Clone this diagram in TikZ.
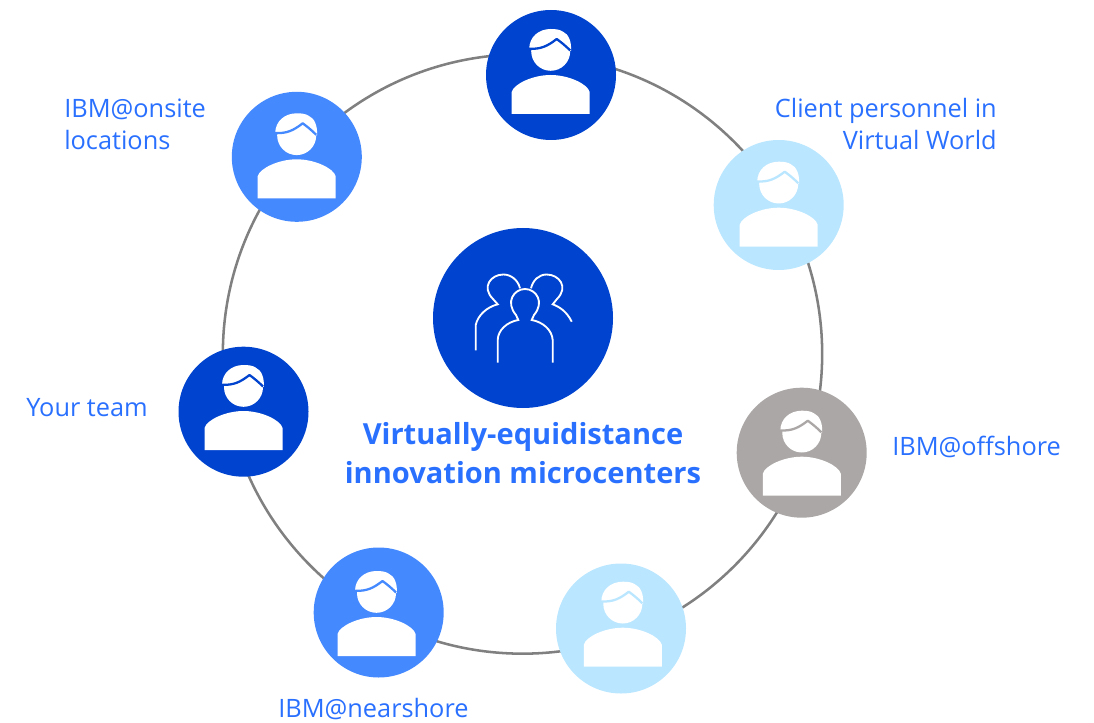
\documentclass[tikz,border=0pt]{standalone}
\usepackage{fontspec}
\setmainfont{Open Sans}
\definecolor{dkb}{HTML}{0043CE}
\definecolor{mdb}{HTML}{4589FF}
\definecolor{ltb}{HTML}{BAE6FF}
\definecolor{gry}{HTML}{ABA7A6}
\definecolor{lbl}{HTML}{2A70FF}
\definecolor{ring}{HTML}{808080}
\tikzset{
  x=0.75pt,y=-0.75pt,
  person/.style={circle,minimum size=97.5pt,inner sep=0pt,fill=#1},
  hub/.style={circle,minimum size=135pt,inner sep=0pt,fill=dkb},
  ringline/.style={circle,draw=ring,line width=1.9pt,minimum size=449.5pt,inner sep=0pt},
  lab/.style={text=lbl,font=\fontsize{19}{24}\selectfont,inner sep=0pt},
  title/.style={text=lbl,font=\fontsize{21.8}{29.5}\selectfont\bfseries,inner sep=0pt,align=center},
  figure/.pic={
    \fill[white] (0,-23.7) circle[radius=19.5];
    \fill[white] (-21.5,-26) .. controls (-21.5,-38) and (-12,-46) .. (0,-46)
       .. controls (5,-46) and (9,-45.5) .. (12,-43.5)
       .. controls (18,-41) and (21,-33) .. (20.3,-24) -- cycle;
    \fill[white] (-39,39) -- (-39,17) .. controls (-37,9) and (-18,0) .. (0,0)
       .. controls (18,0) and (37,9) .. (39,17) -- (39,39) -- cycle;
    \draw[pic actions,line width=1.7pt,line join=round] (-21.8,-26.3) .. controls (-10,-25.5) and (-3,-29) .. (6,-36) .. controls (10,-33) and (14,-30) .. (19.5,-24.5);
  }
}
\begin{document}
\begin{tikzpicture}
\useasboundingbox (0,0) rectangle (1094,723);
\node[ringline] (ringmain) at (522.5,354) {};
\node[person=dkb] (top) at (551,75) {};
\node[person=mdb] (onsite) at (296.8,156.8) {};
\node[person=ltb] (client) at (778.7,205) {};
\node[person=gry] (offshore) at (801.7,452.7) {};
\node[person=ltb] (lower) at (621,628.5) {};
\node[person=mdb] (near) at (378.7,612.5) {};
\node[person=dkb] (team) at (243.5,411.7) {};
\node[hub] (hub) at (523,318) {};
\pic[draw=dkb] at (550.7,75) {figure};
\pic[draw=mdb] at (296.7,159.3) {figure};
\pic[draw=ltb] at (778.7,207.7) {figure};
\pic[draw=gry] at (801.8,456.7) {figure};
\pic[draw=ltb] at (622.8,627.7) {figure};
\pic[draw=mdb] at (376.5,617) {figure};
\pic[draw=dkb] at (243.5,411) {figure};
\begin{scope}[white,line width=1.4pt]
\draw (497.7,362.7) -- (497.7,340) .. controls (498,330) and (507,322) .. (518.3,320) -- (516,315)
  .. controls (505,302) and (514,289) .. (525,289) .. controls (536,289) and (545,302) .. (534,315) -- (531.7,320)
  .. controls (543,322) and (552,330) .. (552.7,340) -- (552.7,362.7);
\draw (475.7,350.3) -- (475.7,325) .. controls (478,315) and (487,307) .. (497.7,304.3) -- (493,299)
  .. controls (481,287) and (491,274.5) .. (503.3,274.5) .. controls (511,274.5) and (518,280) .. (520,288.3);
\draw (531,288.3) .. controls (533,280) and (539,274.5) .. (546.7,274.5) .. controls (559,274.5) and (569,287) .. (557,299)
  -- (552.7,304.3) .. controls (560,307) and (567,312) .. (571.7,321.7);
\end{scope}
\node[title] (maintitle) at (523,453) {Virtually-equidistance\\innovation microcenters};
\node[lab,anchor=west,align=left] (lonsite) at (64,124) {IBM@onsite\\locations};
\node[lab,anchor=east,align=right] (lclient) at (997,124) {Client personnel in\\Virtual World};
\node[lab,anchor=west] (lteam) at (26,408) {Your team};
\node[lab,anchor=west] (loff) at (892,447) {IBM@offshore};
\node[lab,anchor=west] (lnear) at (278,709.5) {IBM@nearshore};
\end{tikzpicture}
\end{document}
